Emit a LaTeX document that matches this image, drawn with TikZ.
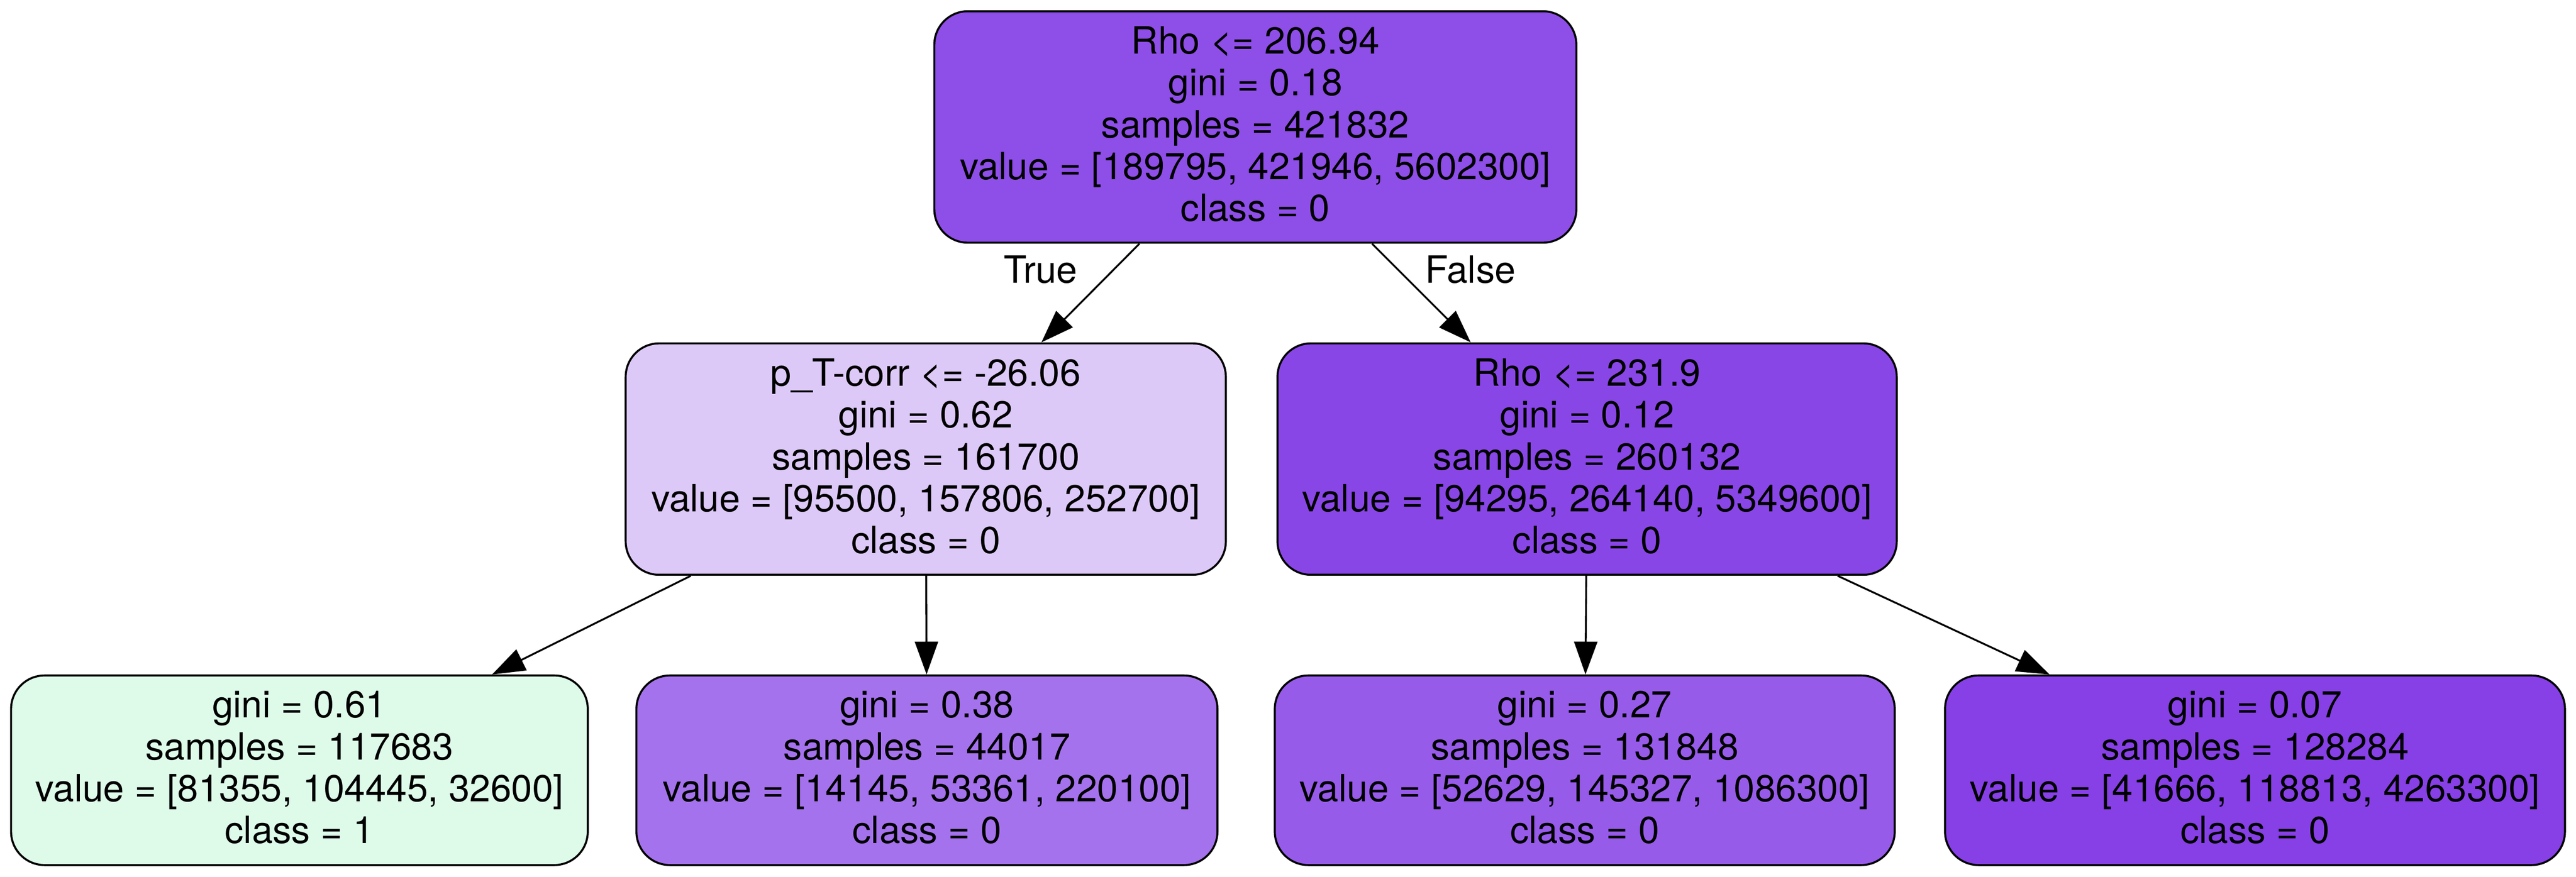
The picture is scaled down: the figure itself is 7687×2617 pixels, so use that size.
\documentclass[tikz,border=0pt]{standalone}
\usepackage{fontspec}
\setmainfont{TeX Gyre Heros}
\usetikzlibrary{arrows.meta}
\definecolor{cRoot}{HTML}{8E4EE8}
\definecolor{cLeft}{HTML}{DDC9F8}
\definecolor{cRight}{HTML}{8946E7}
\definecolor{cLeafA}{HTML}{DEFBEA}
\definecolor{cLeafB}{HTML}{A572ED}
\definecolor{cLeafC}{HTML}{975BEA}
\definecolor{cLeafD}{HTML}{8640E6}
\begin{document}
\begin{tikzpicture}[x=0.1pt, y=-0.1pt, line join=round,
	box/.style={draw, line width=0.6pt, rounded corners=10pt, align=center, inner sep=2pt,
		font=\fontsize{11.2}{12.5}\selectfont, text depth=1.8pt, minimum height=69.1pt},
	leafbox/.style={box, minimum height=56.6pt},
	arr/.style={line width=0.55pt, -{Triangle[length=9.8pt, width=6.9pt]}}]
				\useasboundingbox (0,0) rectangle (7687,2617);
				\node[box, fill=cRoot, minimum width=191.6pt] (N0) at (3746,379) {Rho <= 206.94\\gini = 0.18\\samples = 421832\\value = [189795, 421946, 5602300]\\class = 0};
				\node[box, fill=cLeft, minimum width=179.1pt] (N1) at (2762.5,1370.5) {p\_T-corr <= -26.06\\gini = 0.62\\samples = 161700\\value = [95500, 157806, 252700]\\class = 0};
				\node[box, fill=cRight, minimum width=184.8pt] (N4) at (4736,1370.5) {Rho <= 231.9\\gini = 0.12\\samples = 260132\\value = [94295, 264140, 5349600]\\class = 0};
				\node[leafbox, fill=cLeafA, minimum width=172.1pt] (N2) at (893.5,2299.5) {gini = 0.61\\samples = 117683\\value = [81355, 104445, 32600]\\class = 1};
				\node[leafbox, fill=cLeafB, minimum width=173.4pt] (N3) at (2766,2299.5) {gini = 0.38\\samples = 44017\\value = [14145, 53361, 220100]\\class = 0};
				\node[leafbox, fill=cLeafC, minimum width=185pt] (N5) at (4729,2299.5) {gini = 0.27\\samples = 131848\\value = [52629, 145327, 1086300]\\class = 0};
				\node[leafbox, fill=cLeafD, minimum width=185pt] (N6) at (6729,2299.5) {gini = 0.07\\samples = 128284\\value = [41666, 118813, 4263300]\\class = 0};
				\foreach \a/\b in {N0/N1,N0/N4,N1/N2,N1/N3,N4/N5,N4/N6} \draw[arr] (\a) -- (\b);
				\node[font=\fontsize{11.2}{12.5}\selectfont, anchor=base, inner sep=0pt] (T) at (3105,845) {True};
				\node[font=\fontsize{11.2}{12.5}\selectfont, anchor=base, inner sep=0pt] (F) at (4388,845) {False};
			\end{tikzpicture}
\end{document}
